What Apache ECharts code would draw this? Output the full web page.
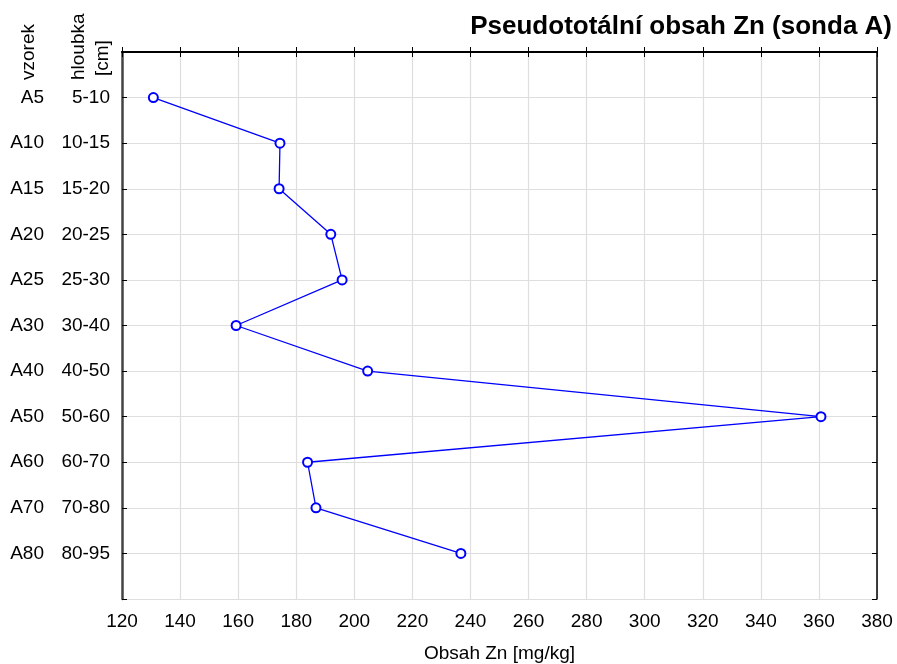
<!DOCTYPE html>
<html>
<head>
<meta charset="utf-8">
<script src="https://cdn.jsdelivr.net/npm/echarts@6/dist/echarts.min.js"></script>
<style>
  html, body { margin: 0; padding: 0; background: #fff; }
  #chart { width: 897px; height: 664px; }
</style>
</head>
<body>
<div id="chart"></div>
<script>
// Sample codes and depth intervals (top to bottom)
const samples = ['A5', 'A10', 'A15', 'A20', 'A25', 'A30', 'A40', 'A50', 'A60', 'A70', 'A80'];
const depths = ['5-10', '10-15', '15-20', '20-25', '25-30', '30-40', '40-50', '50-60', '60-70', '70-80', '80-95'];
// Pseudototal Zn content [mg/kg]
const zn = [130.8, 174.4, 174.1, 191.9, 195.8, 159.3, 204.6, 360.7, 183.9, 186.8, 236.7];
const xTicks = { min: 120, max: 380, interval: 20 };

const FONT = 'Liberation Sans, Arial, sans-serif';
const FS = 19;
const chart = echarts.init(document.getElementById('chart'));

// each sample sits on an integer row position 1..n; rows 0 and n+1 are the frame edges
const points = zn.map((v, i) => [v, i + 1]);
const rowLabel = arr => v => (v >= 1 && v <= arr.length && Number.isInteger(v)) ? arr[v - 1] : '';

const yBase = {
  type: 'value', inverse: true, min: 0, max: samples.length + 1, interval: 1
};

chart.setOption({
  animation: false,
  title: {
    text: 'Pseudototální obsah Zn (sonda A)',
    right: 0, top: 9,
    textStyle: { fontFamily: FONT, fontSize: 26, fontWeight: 'bold', color: '#000' }
  },
  grid: { left: 122, right: 20, top: 52, bottom: 65, outerBoundsMode: 'none', containLabel: false },
  xAxis: [{
    type: 'value', min: xTicks.min, max: xTicks.max, interval: xTicks.interval,
    position: 'bottom',
    name: 'Obsah Zn [mg/kg]', nameLocation: 'middle', nameGap: 45,
    nameTextStyle: { fontFamily: FONT, fontSize: FS, color: '#000' },
    axisLine: { show: true, lineStyle: { color: '#000', width: 2 } },
    axisTick: { show: true, inside: true, length: 5, lineStyle: { color: '#000' } },
    axisLabel: { fontFamily: FONT, fontSize: FS, color: '#000', margin: 13 },
    splitLine: { show: true, lineStyle: { color: '#dedede', width: 1.2 } }
  }, {
    type: 'value', min: xTicks.min, max: xTicks.max, interval: xTicks.interval,
    position: 'top',
    axisLine: { show: true, lineStyle: { color: '#000', width: 1.5 } },
    axisTick: { show: true, inside: true, length: 5, lineStyle: { color: '#000' } },
    axisLabel: { show: false },
    splitLine: { show: false }
  }],
  yAxis: [Object.assign({}, yBase, {
    position: 'left',
    axisLine: { show: true, lineStyle: { color: '#444', width: 2.5 } },
    axisTick: { show: true, inside: true, length: 5, lineStyle: { color: '#000' } },
    axisLabel: { fontFamily: FONT, fontSize: FS, color: '#000', margin: 12, formatter: rowLabel(depths) },
    splitLine: { show: true, lineStyle: { color: '#dedede', width: 1.2 } }
  }), Object.assign({}, yBase, {
    position: 'left', offset: 78,
    axisLine: { show: false },
    axisTick: { show: false },
    axisLabel: { fontFamily: FONT, fontSize: FS, color: '#000', margin: 0, formatter: rowLabel(samples) },
    splitLine: { show: false }
  }), Object.assign({}, yBase, {
    position: 'right',
    axisLine: { show: true, lineStyle: { color: '#000', width: 1.5 } },
    axisTick: { show: true, inside: true, length: 5, lineStyle: { color: '#000' } },
    axisLabel: { show: false },
    splitLine: { show: false }
  })],
  graphic: [
    { type: 'text', x: 19, y: 80, rotation: Math.PI / 2,
      style: { text: 'vzorek', fontFamily: FONT, fontSize: FS, fill: '#000' } },
    { type: 'text', x: 69, y: 80, rotation: Math.PI / 2,
      style: { text: 'hloubka', fontFamily: FONT, fontSize: FS, fill: '#000' } },
    { type: 'text', x: 93, y: 76, rotation: Math.PI / 2,
      style: { text: '[cm]', fontFamily: FONT, fontSize: FS, fill: '#000' } }
  ],
  series: [{
    type: 'line',
    xAxisIndex: 0, yAxisIndex: 0,
    data: points,
    symbol: 'emptyCircle', symbolSize: 9,
    lineStyle: { color: '#0000ff', width: 1.3 },
    itemStyle: { color: '#0000ff', borderColor: '#0000ff', borderWidth: 1.1 }
  }]
});
</script>
</body>
</html>
